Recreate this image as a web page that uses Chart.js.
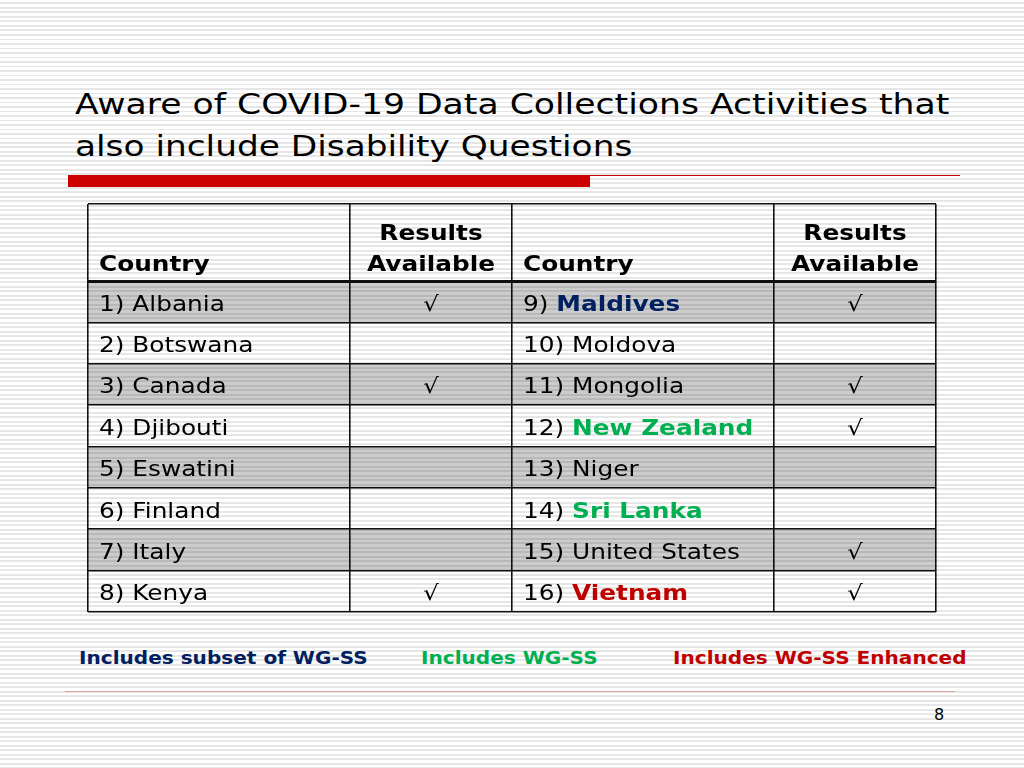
<!DOCTYPE html>
<html>
<head>
<meta charset="utf-8">
<script src="https://cdn.jsdelivr.net/npm/chart.js@4.4.1/dist/chart.umd.min.js"></script>
<style>
  body {
    margin: 0;
    width: 1024px;
    height: 768px;
    overflow: hidden;
    position: relative;
    font-family: "DejaVu Sans", Verdana, sans-serif;
    background: repeating-linear-gradient(to bottom, #ffffff 0px, #ffffff 2.5px, #e6e6e6 2.5px, #e6e6e6 4.5px);
  }
  .txt { position: absolute; white-space: nowrap; transform-origin: left top; }
  .title { left: 75px; font-size: 28.5px; line-height: 28px; color: #000; }
  .redbar { position: absolute; left: 68px; top: 175px; width: 522px; height: 12px; background: #cc0000; }
  .redline { position: absolute; left: 590px; top: 175px; width: 370px; height: 1px; background: #cc0000; }
  .footline { position: absolute; left: 65px; top: 691px; width: 890px; height: 1px; background: #dca2a2; }
  .legend { top: 650px; font-size: 17px; line-height: 16px; font-weight: bold; transform: scaleX(1.18); }
  .pagenum { left: 934px; top: 707px; font-size: 16px; line-height: 16px; color: #000; }
  #wrap { position: absolute; left: 86px; top: 202px; width: 852px; height: 412px; }
</style>
</head>
<body>
<div class="txt title" style="top:91px;transform:scaleX(1.215)">Aware of COVID-19 Data Collections Activities that</div>
<div class="txt title" style="top:133px;transform:scaleX(1.205)">also include Disability Questions</div>
<div class="redbar"></div>
<div class="redline"></div>

<div id="wrap"><canvas id="tableChart"></canvas></div>

<div class="txt legend" style="left:79px;color:#002060">Includes subset of WG-SS</div>
<div class="txt legend" style="left:421px;color:#00b050">Includes WG-SS</div>
<div class="txt legend" style="left:673px;color:#c00000">Includes WG-SS Enhanced</div>
<div class="footline"></div>
<div class="txt pagenum">8</div>

<script>
// table content
const countriesLeft = ['Albania', 'Botswana', 'Canada', 'Djibouti', 'Eswatini', 'Finland', 'Italy', 'Kenya'];
const resultsLeft = [true, false, true, false, false, false, false, true];
const countriesRight = ['Maldives', 'Moldova', 'Mongolia', 'New Zealand', 'Niger', 'Sri Lanka', 'United States', 'Vietnam'];
const resultsRight = [true, false, true, true, false, false, true, true];
const groupRight = ['subset', '', '', 'wgss', '', 'wgss', '', 'enhanced'];
const shadedRows = [true, false, true, false, true, false, true, false];
const headerCountry = 'Country';
const headerResults = ['Results', 'Available'];

const groupColors = { subset: '#002060', wgss: '#00b050', enhanced: '#c00000' };

// column edges on x (0..100) and header height in row units
const colEdges = [0, 30.9, 50, 80.9, 100];
const headerUnits = 77 / 41.375;
const rowLines = [-headerUnits];
for (let i = 0; i <= countriesLeft.length; i++) rowLines.push(i);

const SX = 1.18;
const FSIZE = '21px ';
const FONT = '"DejaVu Sans", Verdana, sans-serif';

const drawParts = (ctx, parts, x, y, align) => {
    let total = 0;
    parts.forEach(p => {
        ctx.font = (p.bold ? 'bold ' : '') + FSIZE + FONT;
        p.w = ctx.measureText(p.text).width;
        total += p.w;
    });
    let start = align === 'center' ? x - total * SX / 2 : x;
    ctx.save();
    ctx.translate(start, y);
    ctx.scale(SX, 1);
    let cx = 0;
    parts.forEach(p => {
        ctx.font = (p.bold ? 'bold ' : '') + FSIZE + FONT;
        ctx.fillStyle = p.color || '#000';
        ctx.textBaseline = 'alphabetic';
        ctx.textAlign = 'left';
        ctx.fillText(p.text, cx, 0);
        cx += p.w;
    });
    ctx.restore();
};

const tableText = {
    id: 'tableText',
    afterDraw(chart) {
        const { ctx, scales: { x, y } } = chart;
        const colLeft = c => x.getPixelForValue(colEdges[c]) + 11;
        const colMid = c => (x.getPixelForValue(colEdges[c]) + x.getPixelForValue(colEdges[c + 1])) / 2;
        const headBase = y.getPixelForValue(0) - 10;

        // header
        [0, 2].forEach(c => drawParts(ctx, [{ text: headerCountry, bold: true }], colLeft(c), headBase));
        [1, 3].forEach(c => {
            drawParts(ctx, [{ text: headerResults[0], bold: true }], colMid(c), headBase - 31, 'center');
            drawParts(ctx, [{ text: headerResults[1], bold: true }], colMid(c), headBase, 'center');
        });

        // rows
        for (let i = 0; i < countriesLeft.length; i++) {
            const base = y.getPixelForValue(i + 0.5) + 9;
            drawParts(ctx, [{ text: (i + 1) + ') ' + countriesLeft[i] }], colLeft(0), base);
            if (resultsLeft[i]) drawParts(ctx, [{ text: '\u221A' }], colMid(1), base, 'center');

            const n = i + 1 + countriesLeft.length;
            const g = groupRight[i];
            const parts = [{ text: n + ') ' }];
            if (g) parts.push({ text: countriesRight[i], bold: true, color: groupColors[g] });
            else parts[0].text += countriesRight[i];
            drawParts(ctx, parts, colLeft(2), base);
            if (resultsRight[i]) drawParts(ctx, [{ text: '\u221A' }], colMid(3), base, 'center');
        }
    }
};

const ctx = document.getElementById('tableChart');
new Chart(ctx, {
    type: 'bar',
    data: {
        datasets: [{
            label: 'shading',
            data: countriesLeft.map((c, i) => ({ x: [colEdges[0], colEdges[colEdges.length - 1]], y: i + 0.5 })),
            backgroundColor: c => shadedRows[c.dataIndex] ? 'rgba(0,0,0,0.2)' : 'rgba(0,0,0,0)',
            borderWidth: 0,
            barPercentage: 1,
            categoryPercentage: 1
        }]
    },
    plugins: [tableText],
    options: {
        indexAxis: 'y',
        responsive: true,
        maintainAspectRatio: false,
        animation: false,
        events: [],
        layout: { padding: 2 },
        plugins: { legend: { display: false }, tooltip: { enabled: false } },
        scales: {
            x: {
                type: 'linear',
                min: colEdges[0],
                max: colEdges[colEdges.length - 1],
                offset: false,
                afterBuildTicks: s => { s.ticks = colEdges.map(v => ({ value: v })); },
                ticks: { display: false },
                border: { display: false },
                grid: { color: '#111', lineWidth: 1.6, drawTicks: false, offset: false }
            },
            y: {
                type: 'linear',
                reverse: true,
                offset: false,
                min: -headerUnits,
                max: countriesLeft.length,
                afterBuildTicks: s => { s.ticks = rowLines.map(v => ({ value: v })); },
                ticks: { display: false },
                border: { display: false },
                grid: {
                    color: '#111',
                    lineWidth: c => (c.tick && c.tick.value === 0) ? 3 : 1.6,
                    drawTicks: false,
                    offset: false
                }
            }
        }
    }
});
</script>
</body>
</html>
